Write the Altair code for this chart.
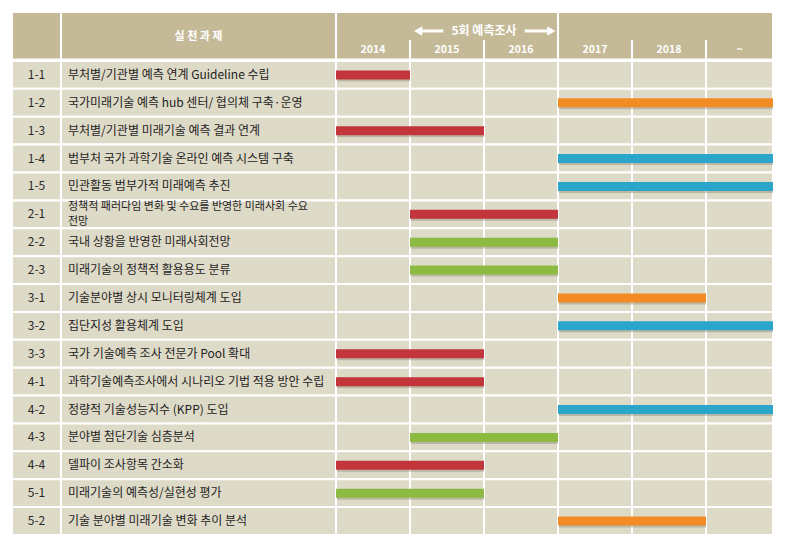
import altair as alt
import pandas as pd

# ---------------- data ----------------
ids = ["1-1", "1-2", "1-3", "1-4", "1-5", "2-1", "2-2", "2-3", "3-1", "3-2",
       "3-3", "4-1", "4-2", "4-3", "4-4", "5-1", "5-2"]
tasks = [
    "부처별/기관별 예측 연계 Guideline 수립",
    "국가미래기술 예측 hub 센터/ 협의체 구축·운영",
    "부처별/기관별 미래기술 예측 결과 연계",
    "범부처 국가 과학기술 온라인 예측 시스템 구축",
    "민관활동 범부가적 미래예측 추진",
    "정책적 패러다임 변화 및 수요를 반영한 미래사회 수요\n전망",
    "국내 상황을 반영한 미래사회전망",
    "미래기술의 정책적 활용용도 분류",
    "기술분야별 상시 모니터링체계 도입",
    "집단지성 활용체계 도입",
    "국가 기술예측 조사 전문가 Pool 확대",
    "과학기술예측조사에서 시나리오 기법 적용 방안 수립",
    "정량적 기술성능지수 (KPP) 도입",
    "분야별 첨단기술 심층분석",
    "델파이 조사항목 간소화",
    "미래기술의 예측성/실현성 평가",
    "기술 분야별 미래기술 변화 추이 분석",
]
starts = [2014, 2017, 2014, 2017, 2017, 2015, 2015, 2015, 2017, 2017,
          2014, 2014, 2017, 2015, 2014, 2014, 2017]
ends = [2015, None, 2016, None, None, 2017, 2017, 2017, 2019, None,
        2016, 2016, None, 2017, 2016, 2016, 2019]          # None = continuing (~)
groups = ["g1", "g2", "g1", "g3", "g3", "g1", "g4", "g4", "g2", "g3",
          "g1", "g1", "g3", "g4", "g1", "g4", "g2"]
year_labels = ["2014", "2015", "2016", "2017", "2018", "~"]
year_starts = [2014, 2015, 2016, 2017, 2018, 2019]
header_task = "실 천 과 제"
survey_label = "5회 예측조사"
survey_span = [2015, 2017]

# ---------------- layout ----------------
PX_YEAR = 74.0
ROW_PX = 27.9
X_LEFT = 2014 - 324 / PX_YEAR
X_SPLIT = 2014 - 275 / PX_YEAR
X_END = 2019 + 67 / PX_YEAR
Y_TOP = -49 / ROW_PX
W = round((X_END - X_LEFT) * PX_YEAR)
H = round((17 - Y_TOP) * ROW_PX)
HEAD_BOTTOM = -0.05
HEAD_SPLIT = -0.75

FONT = "Noto Sans CJK KR"
HEAD_BG = "#C4BA97"
CELL_BG = "#DEDAC8"
GRID = "#FFFFFF"

xs = alt.Scale(domain=[X_LEFT, X_END], zero=False, nice=False)
ys = alt.Scale(domain=[Y_TOP, 17], zero=False, nice=False, reverse=True)

edges = [X_LEFT, X_SPLIT] + year_starts + [X_END]

cells = pd.DataFrame([
    {"x": edges[j], "x2": edges[j + 1], "y": i, "y2": i + 1}
    for i in range(len(ids)) for j in range(len(edges) - 1)
])
head = pd.DataFrame([
    {"x": X_LEFT, "x2": X_SPLIT}, {"x": X_SPLIT, "x2": 2014},
    {"x": 2014, "x2": 2017}, {"x": 2017, "x2": X_END},
])
head["y"] = Y_TOP
head["y2"] = HEAD_BOTTOM
head_rules = pd.DataFrame({"x": [2015, 2016, 2018, 2019]})
head_rules["y"] = HEAD_SPLIT
head_rules["y2"] = HEAD_BOTTOM

rows = pd.DataFrame({
    "id": ids, "task": tasks, "start": starts,
    "end": [e if e is not None else X_END for e in ends],
    "group": groups,
})
rows["yc"] = rows.index + 0.5
rows["xid"] = (X_LEFT + X_SPLIT) / 2
rows["xtask"] = X_SPLIT + 7 / PX_YEAR
single = rows[~rows["task"].str.contains("\n")]
multi = rows[rows["task"].str.contains("\n")]

years_df = pd.DataFrame({"label": year_labels, "start": year_starts})
years_df["xc"] = [(s + (year_starts[k + 1] if k + 1 < len(year_starts) else X_END)) / 2
                  for k, s in enumerate(year_starts)]
years_df["y"] = -0.39

X = lambda f: alt.X(f, type="quantitative", scale=xs, axis=None)
Y = lambda f: alt.Y(f, type="quantitative", scale=ys, axis=None)

cell_layer = alt.Chart(cells).mark_rect(fill=CELL_BG, stroke=GRID, strokeWidth=2).encode(
    x=X("x"), x2="x2", y=Y("y"), y2="y2")
head_layer = alt.Chart(head).mark_rect(fill=HEAD_BG, stroke=GRID, strokeWidth=2).encode(
    x=X("x"), x2="x2", y=Y("y"), y2="y2")
head_rule_layer = alt.Chart(head_rules).mark_rule(color=GRID, strokeWidth=2).encode(
    x=X("x"), y=Y("y"), y2="y2")

head_task = alt.Chart(pd.DataFrame({"t": [header_task], "x": [(X_SPLIT + 2014) / 2], "y": [-0.86]})
                      ).mark_text(font=FONT, fontSize=11, fontWeight="bold", color="white").encode(
    x=X("x"), y=Y("y"), text="t")
year_text = alt.Chart(years_df).mark_text(font=FONT, fontSize=10.5, fontWeight="bold", color="white").encode(
    x=X("xc"), y=Y("y"), text="label")

sv_mid = (survey_span[0] + survey_span[1]) / 2
survey_text = alt.Chart(pd.DataFrame({"t": [survey_label], "x": [sv_mid], "y": [-1.075]})
                        ).mark_text(font=FONT, fontSize=12, fontWeight="bold", color="white").encode(
    x=X("x"), y=Y("y"), text="t")
arrows = pd.DataFrame({
    "x": [survey_span[0] + 0.1, sv_mid + 0.55],
    "x2": [sv_mid - 0.55, survey_span[1] - 0.08],
    "y": [-1.075, -1.075],
})
arrow_shaft = alt.Chart(arrows).mark_rule(color="white", strokeWidth=3).encode(
    x=X("x"), x2="x2", y=Y("y"))
heads = pd.DataFrame({"x": [survey_span[0] + 0.11, survey_span[1] - 0.09],
                      "y": [-1.075, -1.075],
                      "shape": ["triangle-left", "triangle-right"]})
arrow_head = alt.Chart(heads).mark_point(filled=True, color="white", size=90, opacity=1).encode(
    x=X("x"), y=Y("y"),
    shape=alt.Shape("shape:N", scale=None, legend=None))

id_text = alt.Chart(rows).mark_text(font=FONT, fontSize=12, color="#2a2a2a").encode(
    x=X("xid"), y=Y("yc"), text="id")
task_text = alt.Chart(single).mark_text(font=FONT, fontSize=12, color="#1e1e1e", align="left").encode(
    x=X("xtask"), y=Y("yc"), text="task")
task_text_multi = alt.Chart(multi).mark_text(font=FONT, fontSize=11, color="#1e1e1e", align="left",
                                             lineBreak="\n", lineHeight=15, dy=-7.5).encode(
    x=X("xtask"), y=Y("yc"), text="task")

shadow = alt.Chart(rows).mark_rule(strokeWidth=9, color="#6b6550", opacity=0.3,
                                   yOffset=2, xOffset=1).encode(
    x=X("start"), x2="end", y=Y("yc"))
bars = alt.Chart(rows).mark_rule(strokeWidth=9).encode(
    x=X("start"), x2="end", y=Y("yc"),
    color=alt.Color("group:N", scale=alt.Scale(domain=["g1", "g2", "g3", "g4"],
                                               range=["#C2353B", "#F38B25", "#2BA6CA", "#8DBB41"]),
                    legend=None))

chart = alt.layer(
    cell_layer, head_layer, head_rule_layer, head_task, year_text,
    arrow_shaft, arrow_head, survey_text, id_text, task_text, task_text_multi, shadow, bars
).properties(
    width=W, height=H,
    autosize=alt.AutoSizeParams(type="none"),
    padding={"left": 12, "top": 12, "right": 787 - 12 - W, "bottom": 547 - 12 - H},
    background="white",
).configure_view(stroke=None)

chart.save("out.html", embed_options={"renderer": "svg", "actions": False})
